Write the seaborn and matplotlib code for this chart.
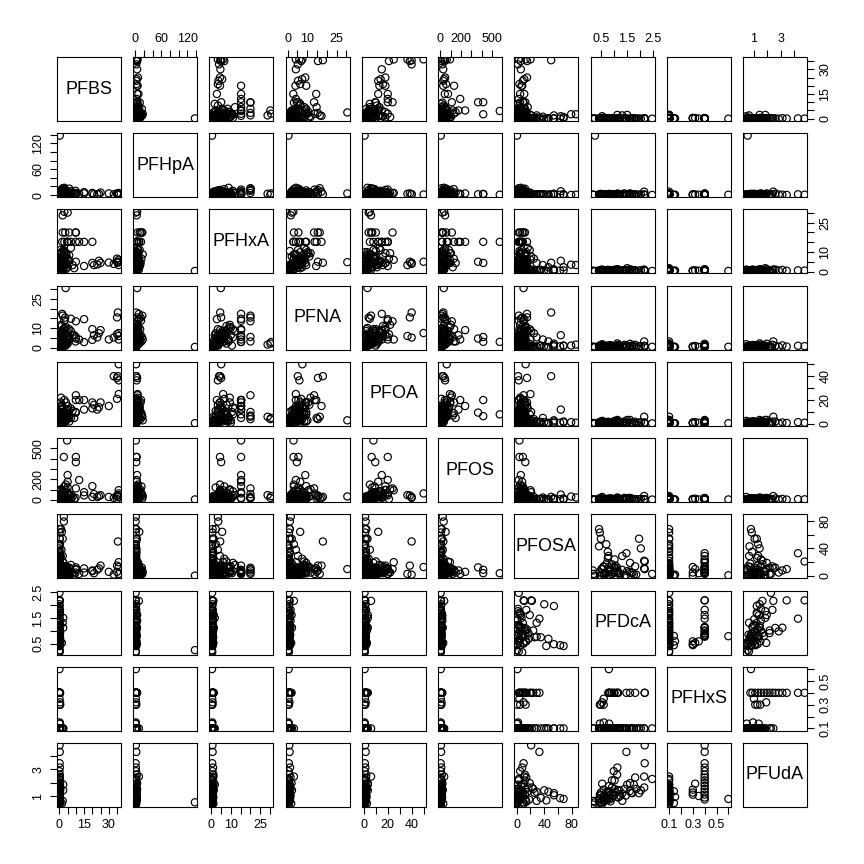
import numpy as np
import pandas as pd
import matplotlib
matplotlib.use("Agg")
import matplotlib.pyplot as plt
import seaborn as sns
from matplotlib.ticker import FixedLocator, FuncFormatter

NA = np.nan

VARIABLES = ["PFBS", "PFHpA", "PFHxA", "PFNA", "PFOA", "PFOS", "PFOSA", "PFDcA", "PFHxS", "PFUdA"]

# one entry per sample; NA where the compound was not measured
pfbs = ([0.2]
        + [36, 35.5, 35, 36, 33, 36, 35, 30, 25, 24, 23, 20, 20, 21, 15, 15, 12, 10]
        + [3.8, 3.0, 5.0, 2.0, 2.7, 2.7, 4.7, 2.7, 10, 10, 5, 5, 4]
        + [2, 3.5, 6, 9.8, 1.7, 3, 7, 2.5, 1, 4, 2, 0.5, 1.5, 3, 5, 0.8, 1.2, 0.3, 2, 1,
           6, 8, 0.5, 3, 1, 0.2, 2, 4, 1.5, 7, 0.8, 5, 3, 0, 1, 2.5, 9, 6]
        + [0.1, 0.2, 0.1, 0.3, 0.0, 0.2, 0.1, 0.4, 0.0, 0.2, 0.1, 0.3, 0.0, 0.2, 0.1,
           0.5, 0.3, 0.2, 0.4, 0.1, 0.3, 0.2, 0.1, 0.0]
        + [0.0, 0.1, 0.2, 0.0, 0.1, 0.2, 0.0, 0.3, 2.3, 0.1, 2.0, 0.2, 2.3, 0.1, 0.0,
           0.2, 0.1, 0.3, 0.0, 0.2, 0.1, 0.1, 0.5, 0.0, 0.2, 1.5]
        + [0.5, 1.5, 2.5, 0.2, 3.5, 1, 4.5, 0.8, 2, 0, 3, 1.2, 5.5, 0.4, 2.2, 1.8, 3.8, 0.6, 4.2, 1.4]
        + [0.1, 0.0, 0.2, 0.1, 0.3, 0.0, 0.2, 0.1, 0.4, 0.0, 0.2, 0.1, 0.3, 0.0, 0.2])

pfhpa = ([138]
         + [1.5, 2, 4, 3, 2, 5, 2.5, 4, 6, 3, 2, 4, 5, 2, 7, 4, 3, 5]
         + [4, 4, 1, 3, 1, 0.5, 1, 2, 3, 2, 4, 3, 6]
         + [16, 12, 15, 10, 8, 13, 9, 6, 5, 7, 3, 2, 9, 4, 8, 1, 2, 1, 3, 0.5,
            4, 6, 10, 14, 2, 0.5, 1, 3, 6, 5, 12, 2, 17, 4, 7, 1, 3, 2]
         + [1, 2, 0.5, 1, 1.5, 3, 2, 1, 4, 2, 1, 0.5, 2, 1, 3,
            1, 2, 0.5, 1.5, 1, 0.5, 1, 0.5, 1]
         + [0.5, 8, 1, 2, 1, 0.5, 1, 2, 1, 4, 2, 1, 3, 1.5, 0.5,
            2, 1, 3, 1, 2, 0.5, 1, 2, 1, 0.5, 2]
         + [3, 5, 8, 2, 6, 4, 9, 1, 7, 3, 11, 2, 5, 6, 4, 9, 2, 5, 3, 1]
         + [1, 2, 0.5, 1, 3, 1, 2, 0.5, 1.5, 1, 2, 0.5, 1, 2, 1])

pfhxa = ([0.3]
         + [5.0, 4.5, 5.0, 3.3, 3.9, 6.0, 6.6, 4.6, 4.4, 5.5, 3.6, 15.2, 4.4, 3.3, 2.8, 15.2, 15.2, 20.0]
         + [4.8, 30.6, 30.2, 28.8, 3.3, 3.5, 15.2, 4.4, 15.2, 5.0, 15.2, 15.2, 4.4]
         + [20, 20, 20, 20, 15.2, 15.2, 15.2, 11, 9.4, 9.4, 7.7, 6.6, 5.5, 9.9, 6.6, 4.4, 3.3, 2.2, 1.1, 2.2,
            5.5, 3.3, 11, 6.6, 1.1, 0.6, 2.2, 3.3, 7.7, 12.1, 4.4, 2.2, 8.8, 1.1, 3.9, 10.5, 1.7, 8.3]
         + [0.5, 0.6, 0.4, 0.8, 0.5, 1.0, 0.7, 0.3, 1.2, 0.6, 0.9, 0.5, 0.2, 0.8, 0.4,
            0.3, 0.5, 0.2, 0.6, 0.4, 0.3, 0.5, 0.2, 0.3]
         + [0.3, 1.0, 0.5, 0.6, 0.4, 0.3, 0.2, 0.7, 1.7, 0.8, 0.5, 0.3, 1.2, 0.4, 0.2,
            0.6, 0.5, 0.8, 0.3, 0.9, 0.2, 0.4, 0.6, 0.2, 0.5, 1.0]
         + [5.5, 4.4, 6.6, 3.3, 7.7, 8.8, 2.2, 5.5, 4.4, 6.6, 3.3, 9.9, 5.5, 2.2, 7.7, 4.4, 1.1, 6.6, 8.8, 3.3]
         + [0.3, 0.6, 0.4, 0.5, 0.8, 0.2, 0.7, 0.3, 0.5, 0.4, 0.6, 0.2, 0.5, 0.3, 0.6])

pfna = ([0.4]
        + [7.5, 18.0, 15.5, 6.0, 5.2, 4.2, 6.9, 4.2, 9.0, 7.4, 5.3, 9.5, 4.0, 6.4, 14.6, 2.9, 4.2, 13.5]
        + [30.5, 2.9, 2.1, 1.6, 1.6, 1.1, 3.0, 3.0, 5.5, 4.7, 9.0, 6.4, 3.2]
        + [16.4, 15.4, 5.5, 3.2, 17.3, 13.8, 14.8, 9.5, 11.7, 10.6, 8.5, 7.4, 6.4, 10.1, 7.4, 5.3, 4.2, 3.2, 2.1, 1.1,
           4.2, 6.4, 5.3, 3.2, 1.1, 0.5, 2.1, 2.1, 11.1, 8.5, 6.4, 5.3, 4.2, 3.2, 2.1, 1.1, 6.4, 9.5]
        + [0.8, 1.0, 0.6, 1.2, 0.5, 0.9, 1.5, 0.7, 2.0, 1.1, 0.8, 0.4, 1.3, 0.6, 0.9,
           0.5, 0.7, 0.3, 0.9, 0.4, 0.6, 0.4, 0.3, 0.5]
        + [0.5, 3.2, 1.0, 0.8, 0.7, 0.5, 0.4, 1.2, 0.9, 1.5, 0.6, 0.5, 2.2, 0.8, 0.3,
           1.0, 0.7, 1.3, 0.4, 1.1, 0.3, 0.6, 0.9, 0.2, 0.7, 1.8]
        + [4.2, 3.2, 5.3, 6.4, 7.4, 4.2, 2.1, 8.5, 5.3, 3.2, 9.5, 6.4, 4.2, 7.4, 2.1, 5.3, 1.1, 8.5, 3.2, 4.2]
        + [0.5, 0.9, 0.4, 0.7, 1.4, 0.3, 1.0, 0.6, 0.8, 0.5, 1.2, 0.4, 0.7, 0.9, 0.6])

pfoa = ([0.6]
        + [50, 40, 38.5, 36.5, 40, 25, 21, 15, 18, 14, 12, 18, 13, 16, 20, 12, 20, 24]
        + [3, 5, 4, 6, 1, 1.5, 8, 6.5, 20, 9.5, 15, 12, 5]
        + [6, 4, 7, 10, 15, 20, 5, 8, 22, 18, 10, 4, 12, 3, 9, 2, 5, 1, 3, 2,
           6, 11, 14, 9, 1, 0.5, 3, 4, 16, 13, 18, 7, 3, 2, 6, 10, 5, 2]
        + [1.0, 1.5, 0.8, 1.2, 0.6, 2.0, 1.8, 1.0, 3.3, 1.4, 2.5, 0.9, 1.1, 0.7, 1.6,
           0.8, 1.2, 0.5, 1.5, 0.9, 0.7, 0.6, 0.4, 0.6]
        + [0.5, 6.0, 1.0, 1.5, 0.8, 0.5, 0.6, 1.2, 3.3, 2.0, 1.0, 0.7, 3.3, 0.9, 0.4,
           1.3, 1.0, 2.0, 0.5, 1.7, 0.5, 0.8, 1.5, 0.3, 0.9, 2.5]
        + [4, 7, 5, 3, 9, 6, 11, 2, 8, 4, 10, 1, 12, 6, 3, 13, 2, 8, 5, 1]
        + [0.6, 1.2, 0.5, 0.9, 2.2, 0.4, 1.4, 0.7, 1.0, 0.6, 1.8, 0.5, 1.1, 0.8, 1.3])

pfos = ([4]
        + [62, 29, 42, 46, 19, 93, 9, 28, 46, 37, 28, 133, 28, 56, 43, 74, 192, 111]
        + [33, 37, 19, 46, 23, 32, 575, 415, 415, 365, 240, 175, 148]
        + [13, 28, 56, 19, 19, 62, 13, 37, 102, 93, 74, 28, 51, 19, 65, 9, 23, 7, 11, 5,
           42, 32, 83, 130, 3, 2, 14, 20, 32, 46, 97, 120, 37, 17, 56, 23, 7, 14]
        + [5, 7, 3, 9, 4, 14, 6, 11, 19, 8, 7, 3, 10, 5, 13,
           6, 9, 2, 11, 4, 3, 5, 2, 4]
        + [3, 37, 7, 9, 6, 4, 5, 11, 17, 19, 7, 3, 23, 8, 2,
           13, 6, 15, 4, 10, 2, 5, 7, 1, 6, 28]
        + [15, 30, 22, 12, 45, 60, 25, 8, 75, 18, 35, 5, 50, 40, 10, 85, 6, 28, 16, 3]
        + [4, 9, 3, 6, 16, 2, 10, 5, 7, 4, 12, 3, 8, 6, 9])

pfosa = ([0.5]
         + [13, 50, 15, 3, 2, 20, 6, 6, 15, 11, 9, 7, 8, 4, 11, 5, 3, 10]
         + [10, NA, NA, NA, 86, 79, 4, 4, 9, 12.5, 6, 8, 5]
         + [3, 8, 12, 5, 15, 3, 6, 19, 5, 12, 21, 25, 64, 14, 10, 29, 38, 46, 54, 68,
            2, 4, 7, 9, 1, 0.5, 2, 1, 13, 16, 10, 3, 6, 9, 5, 4, 2, 11]
         + [21, 33, 10, 8, 5, 12, 14, 3, 19, 6, 24, 29, 9, 4, 13,
            13, 0.5, 5, 10, 4, 1, 2, 0, 1]
         + [3, 11, 22, 40, 54, 2, 5, 4, 7, 0, 29, 2, 6, 12, 43,
            68, 63, 54, 46, 35, 26, 8, 14, 3, 17, 10]
         + [4, 6, 3, 8, 2, 5, 7, 12, 1, 9, 4, 6, 3, 10, 2, 8, 1, 5, 14, 3]
         + [2, 6, 1, 9, 4, 12, 3, 7, 18, 5, 2, 10, 4, 15, 1])

pfdca = ([0.25] + [NA] * 69
         + [2.18, 1.47, 2.18, 1.12, 0.98, 1.11, 1.81, 0.91, 1.61, 0.80, 1.01, 0.77, 0.85, 1.15, 0.80,
            0.59, 0.48, 0.44, 0.53, 0.59, 0.80, 0.59, 0.44, 0.79]
         + [2.47, 2.16, 2.16, 2.03, 1.96, 1.76, 1.66, 1.70, 1.50, 1.39, 1.31, 1.23, 1.12, 1.01, 0.41,
            0.41, 0.44, 0.48, 0.69, 0.75, 0.75, 0.17, 0.59, 0.20, 0.91, 0.53]
         + [NA] * 20
         + [1.85, 1.60, 1.45, 1.30, 1.15, 1.00, 0.90, 0.80, 0.70, 0.65, 0.60, 0.50, 1.20, 1.05, 0.85])

pfhxs = ([NA] * 70
         + [0.4] * 15
         + [0.30, 0.30, 0.30, 0.32, 0.35, 0.14, 0.15, 0.14, 0.60]
         + [0.1] * 26
         + [NA] * 20
         + [0.1] * 15)

pfuda = ([0.55] + [NA] * 69
         + [4.78, 4.29, 3.45, 3.13, 2.86, 2.60, 2.39, 2.18, 1.97, 1.76, 1.54, 1.33, 1.12, 0.91, 0.76,
            1.49, 1.28, 1.12, 1.93, 1.02, 1.37, 0.95, 0.49, 0.80]
         + [2.28, 2.46, 1.65, 1.44, 1.23, 1.86, 1.25, 1.23, 1.86, 1.54, 0.66, 1.02, 1.44, 2.18, 0.69,
            0.80, 0.86, 1.07, 1.33, 0.88, 1.25, 0.38, 0.59, 0.65, 1.65, 0.45]
         + [NA] * 20
         + [1.55, 1.38, 1.05, 1.20, 0.95, 1.10, 0.85, 1.00, 0.75, 0.90, 0.70, 0.55, 1.45, 1.30, 0.62])

# tick marks and the subset of ticks that carry a label (R skips crowded ones)
AXIS_TICKS = {
    "PFBS": [0, 5, 10, 15, 20, 25, 30, 35],
    "PFHpA": [0, 20, 40, 60, 80, 100, 120, 140],
    "PFHxA": [0, 5, 10, 15, 20, 25, 30],
    "PFNA": [0, 5, 10, 15, 20, 25, 30],
    "PFOA": [0, 10, 20, 30, 40, 50],
    "PFOS": [0, 100, 200, 300, 400, 500],
    "PFOSA": [0, 20, 40, 60, 80],
    "PFDcA": [0.5, 1.0, 1.5, 2.0, 2.5],
    "PFHxS": [0.1, 0.2, 0.3, 0.4, 0.5, 0.6],
    "PFUdA": [1, 2, 3, 4],
}
AXIS_LABELED = {
    "PFBS": [0, 15, 30],
    "PFHpA": [0, 60, 120],
    "PFHxA": [0, 10, 25],
    "PFNA": [0, 10, 25],
    "PFOA": [0, 20, 40],
    "PFOS": [0, 200, 500],
    "PFOSA": [0, 40, 80],
    "PFDcA": [0.5, 1.5, 2.5],
    "PFHxS": [0.1, 0.3, 0.5],
    "PFUdA": [1, 3],
}


def padded_range(values):
    lo, hi = np.nanmin(values), np.nanmax(values)
    pad = 0.04 * (hi - lo)
    return lo - pad, hi + pad


def label_formatter(labels):
    def fmt(value, pos):
        if any(np.isclose(value, lab) for lab in labels):
            return f"{value:g}"
        return ""
    return FuncFormatter(fmt)


def main() -> None:
    df = pd.DataFrame({
        "PFBS": pfbs, "PFHpA": pfhpa, "PFHxA": pfhxa, "PFNA": pfna, "PFOA": pfoa,
        "PFOS": pfos, "PFOSA": pfosa, "PFDcA": pfdca, "PFHxS": pfhxs, "PFUdA": pfuda,
    })

    sns.set_theme(style="white", rc={
        "axes.edgecolor": "black",
        "axes.linewidth": 0.8,
        "xtick.color": "black",
        "ytick.color": "black",
        "figure.facecolor": "white",
    })
    plt.rcParams["font.family"] = ["Liberation Sans", "DejaVu Sans"]

    g = sns.PairGrid(df, vars=VARIABLES, height=0.864, aspect=1, despine=False)
    g.map_offdiag(sns.scatterplot, marker="o", s=27, facecolor="none",
                  edgecolor="black", linewidth=0.85)

    n = len(VARIABLES)
    for i, row_var in enumerate(VARIABLES):
        for j, col_var in enumerate(VARIABLES):
            ax = g.axes[i, j]
            ax.set_xlabel("")
            ax.set_ylabel("")
            ax.set_xlim(padded_range(df[col_var]))
            ax.set_ylim(padded_range(df[row_var]))
            ax.xaxis.set_major_locator(FixedLocator(AXIS_TICKS[col_var]))
            ax.yaxis.set_major_locator(FixedLocator(AXIS_TICKS[row_var]))
            ax.xaxis.set_major_formatter(label_formatter(AXIS_LABELED[col_var]))
            ax.yaxis.set_major_formatter(label_formatter(AXIS_LABELED[row_var]))
            ax.minorticks_off()
            ax.tick_params(which="major", direction="out", length=5, width=0.8,
                           pad=4, labelsize=9, colors="black",
                           bottom=False, top=False, left=False, right=False,
                           labelbottom=False, labeltop=False,
                           labelleft=False, labelright=False)
            ax.tick_params(axis="y", labelrotation=90)
            for spine in ax.spines.values():
                spine.set_visible(True)
                spine.set_color("black")
                spine.set_linewidth(0.8)

            # R pairs() style: axes alternate around the outer edge
            if i == 0 and j % 2 == 1:
                ax.tick_params(axis="x", top=True, labeltop=True)
            if i == n - 1 and j % 2 == 0:
                ax.tick_params(axis="x", bottom=True, labelbottom=True)
            if j == 0 and i % 2 == 1:
                ax.tick_params(axis="y", left=True, labelleft=True)
            if j == n - 1 and i % 2 == 0:
                ax.tick_params(axis="y", right=True, labelright=True)

            if i == j:
                ax.text(0.5, 0.5, row_var, transform=ax.transAxes,
                        ha="center", va="center", fontsize=13, color="black")

    g.figure.subplots_adjust(left=0.066, right=0.934, bottom=0.066, top=0.934,
                             wspace=0.19, hspace=0.19)

    g.figure.canvas.draw()
    for ax in g.axes.flat:
        for tick in ax.yaxis.get_major_ticks():
            tick.label1.set_rotation_mode("default")
            tick.label2.set_rotation_mode("default")
            tick.label1.set_verticalalignment("center")
            tick.label2.set_verticalalignment("center")
            tick.label1.set_horizontalalignment("right")
            tick.label2.set_horizontalalignment("left")

    g.figure.savefig("out.png", dpi=100)
    plt.close(g.figure)


if __name__ == "__main__":
    main()
